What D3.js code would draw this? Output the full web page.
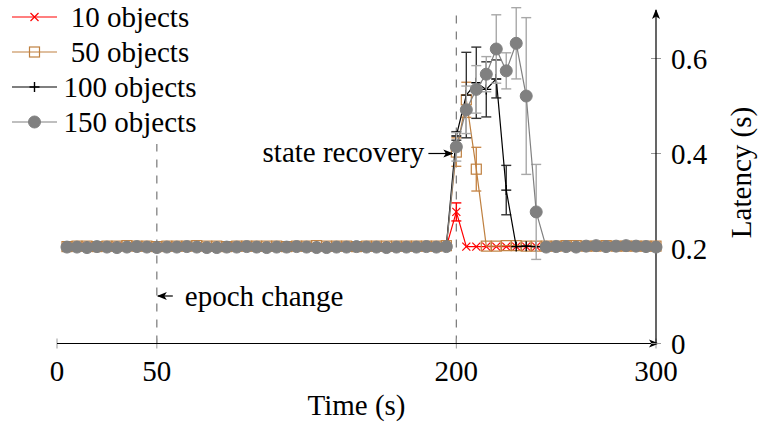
<!DOCTYPE html>
<html>
<head>
<meta charset="utf-8">
<script src="https://cdn.jsdelivr.net/npm/d3@7"></script>
<style>
  html, body { margin: 0; padding: 0; background: #fff; }
  svg { display: block; }
</style>
</head>
<body>
<svg class="chart"></svg>
<script>
// sample times (s)
const times = [5, 10, 15, 20, 25, 30, 35, 40, 45, 50, 55, 60, 65, 70, 75, 80, 85, 90, 95, 100,
  105, 110, 115, 120, 125, 130, 135, 140, 145, 150, 155, 160, 165, 170, 175, 180, 185, 190, 195, 200,
  205, 210, 215, 220, 225, 230, 235, 240, 245, 250, 255, 260, 265, 270, 275, 280, 285, 290, 295, 300];

// mean latency (s) per series
const lat10 = [0.203, 0.203, 0.204, 0.203, 0.203, 0.204, 0.203, 0.203, 0.203, 0.203, 0.203, 0.204, 0.203, 0.203, 0.203, 0.203, 0.203, 0.204, 0.203, 0.203,
  0.203, 0.203, 0.203, 0.204, 0.203, 0.203, 0.203, 0.203, 0.204, 0.203, 0.203, 0.203, 0.203, 0.203, 0.204, 0.203, 0.203, 0.203, 0.204, 0.277,
  0.204, 0.204, 0.204, 0.204, 0.204, 0.204, 0.204, 0.204, 0.204, 0.204, 0.204, 0.204, 0.204, 0.204, 0.204, 0.204, 0.204, 0.204, 0.204, 0.204];
const lat50 = [0.204, 0.205, 0.205, 0.204, 0.205, 0.205, 0.206, 0.205, 0.205, 0.204, 0.205, 0.205, 0.205, 0.206, 0.205, 0.205, 0.204, 0.205, 0.205, 0.205,
  0.205, 0.205, 0.204, 0.205, 0.205, 0.206, 0.205, 0.205, 0.205, 0.204, 0.205, 0.205, 0.205, 0.205, 0.205, 0.205, 0.205, 0.205, 0.206, 0.403,
  0.513, 0.367, 0.205, 0.205, 0.206, 0.206, 0.205, 0.205, 0.205, 0.205, 0.206, 0.206, 0.205, 0.205, 0.206, 0.205, 0.205, 0.205, 0.205, 0.205];
const lat100 = [0.203, 0.204, 0.204, 0.203, 0.204, 0.204, 0.204, 0.203, 0.204, 0.204, 0.203, 0.204, 0.204, 0.204, 0.203, 0.204, 0.204, 0.204, 0.204, 0.204,
  0.203, 0.204, 0.204, 0.204, 0.203, 0.204, 0.204, 0.204, 0.204, 0.204, 0.203, 0.204, 0.204, 0.204, 0.204, 0.204, 0.204, 0.204, 0.205, 0.437,
  0.523, 0.549, 0.535, 0.557, 0.323, 0.204, 0.205, 0.204, 0.204, 0.204, 0.204, 0.205, 0.204, 0.204, 0.204, 0.204, 0.204, 0.204, 0.204, 0.204];
const lat150 = [0.203, 0.203, 0.202, 0.204, 0.203, 0.202, 0.203, 0.204, 0.203, 0.202, 0.203, 0.203, 0.204, 0.203, 0.202, 0.202, 0.203, 0.203, 0.204, 0.203,
  0.202, 0.203, 0.203, 0.204, 0.203, 0.202, 0.202, 0.203, 0.203, 0.204, 0.203, 0.203, 0.202, 0.203, 0.203, 0.203, 0.204, 0.203, 0.204, 0.414,
  0.492, 0.535, 0.567, 0.620, 0.574, 0.632, 0.521, 0.277, 0.203, 0.204, 0.204, 0.203, 0.205, 0.206, 0.204, 0.205, 0.206, 0.205, 0.204, 0.203];

// error bar half-widths (s)
const err10 = [0.002, 0.002, 0.002, 0.002, 0.002, 0.002, 0.002, 0.002, 0.002, 0.002, 0.002, 0.002, 0.002, 0.002, 0.002, 0.002, 0.002, 0.002, 0.002, 0.002,
  0.002, 0.002, 0.002, 0.002, 0.002, 0.002, 0.002, 0.002, 0.002, 0.002, 0.002, 0.002, 0.002, 0.002, 0.002, 0.002, 0.002, 0.002, 0.002, 0.019,
  0.002, 0.002, 0.002, 0.002, 0.002, 0.002, 0.002, 0.002, 0.002, 0.002, 0.002, 0.002, 0.002, 0.002, 0.002, 0.002, 0.002, 0.002, 0.002, 0.002];
const err50 = [0.003, 0.003, 0.003, 0.003, 0.003, 0.003, 0.003, 0.003, 0.003, 0.003, 0.003, 0.003, 0.003, 0.003, 0.003, 0.003, 0.003, 0.003, 0.003, 0.003,
  0.003, 0.003, 0.003, 0.003, 0.003, 0.003, 0.003, 0.003, 0.003, 0.003, 0.003, 0.003, 0.003, 0.003, 0.003, 0.003, 0.003, 0.003, 0.003, 0.030,
  0.037, 0.046, 0.003, 0.003, 0.003, 0.003, 0.003, 0.003, 0.003, 0.003, 0.003, 0.003, 0.003, 0.003, 0.003, 0.003, 0.003, 0.003, 0.003, 0.003];
const err100 = [0.003, 0.003, 0.003, 0.003, 0.003, 0.003, 0.003, 0.003, 0.003, 0.003, 0.003, 0.003, 0.003, 0.003, 0.003, 0.003, 0.003, 0.003, 0.003, 0.003,
  0.003, 0.003, 0.003, 0.003, 0.003, 0.003, 0.003, 0.003, 0.003, 0.003, 0.003, 0.003, 0.003, 0.003, 0.003, 0.003, 0.003, 0.003, 0.003, 0.009,
  0.090, 0.075, 0.058, 0.040, 0.052, 0.003, 0.003, 0.003, 0.003, 0.003, 0.003, 0.003, 0.003, 0.003, 0.003, 0.003, 0.003, 0.003, 0.003, 0.003];
const err150 = [0.003, 0.003, 0.003, 0.003, 0.003, 0.003, 0.003, 0.003, 0.003, 0.003, 0.003, 0.003, 0.003, 0.003, 0.003, 0.003, 0.003, 0.003, 0.003, 0.003,
  0.003, 0.003, 0.003, 0.003, 0.003, 0.003, 0.003, 0.003, 0.003, 0.003, 0.003, 0.003, 0.003, 0.003, 0.003, 0.003, 0.003, 0.003, 0.003, 0.030,
  0.050, 0.050, 0.037, 0.072, 0.038, 0.075, 0.165, 0.100, 0.003, 0.003, 0.003, 0.003, 0.003, 0.003, 0.003, 0.003, 0.003, 0.003, 0.003, 0.003];

const seriesNames = ['10 objects', '50 objects', '100 objects', '150 objects'];
const xTicks = [0, 50, 200, 300];
const yTicks = [0, 0.2, 0.4, 0.6];

const series = [
  { name: seriesNames[0], values: lat10, errs: err10, color: '#ff0000', barColor: '#ff0000', mark: 'x' },
  { name: seriesNames[1], values: lat50, errs: err50, color: '#bf8040', barColor: '#c98a4e', mark: 'square' },
  { name: seriesNames[2], values: lat100, errs: err100, color: '#000000', barColor: '#333333', mark: 'plus' },
  { name: seriesNames[3], values: lat150, errs: err150, color: '#808080', barColor: '#a8a8a8', mark: 'circle' }
];

const FONT = '"Liberation Serif"';
const FS = '29px';
const width = 758;
const height = 423;
const x = d3.scaleLinear().domain([0, 300]).range([57, 656]);
const y = d3.scaleLinear().domain([0, 0.7]).range([343.5, 11]);

const svg = d3.select('.chart').attr('width', width).attr('height', height);

function label(sel) {
  return sel.style('font-family', FONT).style('font-size', FS).attr('fill', '#000');
}

const defs = svg.append('defs');
defs.append('marker')
  .attr('id', 'arrow')
  .attr('viewBox', '0 -5 10 10')
  .attr('refX', 9).attr('refY', 0)
  .attr('markerWidth', 10).attr('markerHeight', 10)
  .attr('markerUnits', 'userSpaceOnUse')
  .attr('orient', 'auto')
  .append('path')
  .attr('d', 'M0,-4L10,0L0,4L2.5,0Z')
  .attr('fill', '#000');

function drawMark(g, type, color, size) {
  if (type === 'x') {
    g.append('path')
      .attr('d', `M${-size},${-size}L${size},${size}M${-size},${size}L${size},${-size}`)
      .attr('stroke', color).attr('stroke-width', 1.2).attr('fill', 'none');
  } else if (type === 'square') {
    g.append('rect')
      .attr('x', -size).attr('y', -size).attr('width', 2 * size).attr('height', 2 * size)
      .attr('stroke', color).attr('stroke-width', 1.2).attr('fill', 'none');
  } else if (type === 'plus') {
    g.append('path')
      .attr('d', `M${-size},0L${size},0M0,${-size}L0,${size}`)
      .attr('stroke', color).attr('stroke-width', 1.4).attr('fill', 'none');
  } else {
    g.append('circle').attr('r', size).attr('fill', color).attr('stroke', color);
  }
}
const markSize = { x: 4, square: 5, plus: 5, circle: 6 };

// dashed event lines
svg.append('line')
  .attr('x1', x(50)).attr('x2', x(50)).attr('y1', y(0)).attr('y2', y(0.42))
  .attr('stroke', '#777').attr('stroke-width', 1.2).attr('stroke-dasharray', '8,8');
svg.append('line')
  .attr('x1', x(200)).attr('x2', x(200)).attr('y1', y(0)).attr('y2', y(0.7))
  .attr('stroke', '#777').attr('stroke-width', 1.2).attr('stroke-dasharray', '8,8');

// axes
const xAxis = svg.append('g').attr('transform', `translate(0,${y(0)})`);
xAxis.selectAll('line.tick').data(xTicks).enter().append('line')
  .attr('x1', d => x(d)).attr('x2', d => x(d)).attr('y1', -5).attr('y2', 5)
  .attr('stroke', '#999').attr('stroke-width', 1);
xAxis.append('line')
  .attr('x1', x(0)).attr('x2', x(300) + 2).attr('y1', 0).attr('y2', 0)
  .attr('stroke', '#000').attr('stroke-width', 1.2).attr('marker-end', 'url(#arrow)');
xAxis.selectAll('text').data(xTicks).enter().append('text')
  .attr('x', d => x(d)).attr('y', 27)
  .attr('text-anchor', 'middle').attr('dy', '0.35em')
  .call(label)
  .text(d => d);

const yAxis = svg.append('g').attr('transform', `translate(${x(300)},0)`);
yAxis.selectAll('line.tick').data(yTicks).enter().append('line')
  .attr('x1', -5).attr('x2', 5).attr('y1', d => y(d)).attr('y2', d => y(d))
  .attr('stroke', '#999').attr('stroke-width', 1);
yAxis.append('line')
  .attr('x1', 0).attr('x2', 0).attr('y1', y(0)).attr('y2', y(0.7) - 1)
  .attr('stroke', '#000').attr('stroke-width', 1.2).attr('marker-end', 'url(#arrow)');
yAxis.selectAll('text').data(yTicks).enter().append('text')
  .attr('x', 15).attr('y', d => y(d))
  .attr('dy', '0.35em')
  .call(label)
  .text(d => d === 0 ? '0' : d.toFixed(1));

svg.append('text')
  .attr('x', (x(0) + x(300)) / 2).attr('y', 405)
  .attr('text-anchor', 'middle').attr('dy', '0.35em')
  .call(label)
  .text('Time (s)');
svg.append('text')
  .attr('transform', `translate(741,${y(0.36)}) rotate(-90)`)
  .attr('text-anchor', 'middle').attr('dy', '0.35em')
  .call(label)
  .text('Latency (s)');

// series
const line = d3.line().x(d => x(d.t)).y(d => y(d.v));
series.forEach(s => {
  const pts = times.map((t, i) => ({ t, v: s.values[i], e: s.errs[i] }));
  const g = svg.append('g');
  const bars = g.append('g').attr('stroke', s.barColor).attr('stroke-width', 1.4).attr('fill', 'none');
  pts.filter(p => p.e > 0.005).forEach(p => {
    bars.append('line').attr('x1', x(p.t)).attr('x2', x(p.t)).attr('y1', y(p.v - p.e)).attr('y2', y(p.v + p.e));
    bars.append('line').attr('x1', x(p.t) - 5).attr('x2', x(p.t) + 5).attr('y1', y(p.v - p.e)).attr('y2', y(p.v - p.e));
    bars.append('line').attr('x1', x(p.t) - 5).attr('x2', x(p.t) + 5).attr('y1', y(p.v + p.e)).attr('y2', y(p.v + p.e));
  });
  g.append('path').datum(pts).attr('d', line)
    .attr('fill', 'none').attr('stroke', s.color).attr('stroke-width', 1.2);
  g.selectAll('g.mark').data(pts).enter().append('g')
    .attr('transform', d => `translate(${x(d.t)},${y(d.v)})`)
    .each(function () { drawMark(d3.select(this), s.mark, s.color, markSize[s.mark]); });
});

// annotations
svg.append('line')
  .attr('x1', x(58)).attr('x2', x(50.5)).attr('y1', y(0.1)).attr('y2', y(0.1))
  .attr('stroke', '#000').attr('stroke-width', 1.2).attr('marker-end', 'url(#arrow)');
svg.append('text')
  .attr('x', x(64)).attr('y', y(0.1)).attr('dy', '0.35em')
  .call(label)
  .text('epoch change');
svg.append('line')
  .attr('x1', x(186)).attr('x2', x(198)).attr('y1', y(0.4)).attr('y2', y(0.4))
  .attr('stroke', '#000').attr('stroke-width', 1.2).attr('marker-end', 'url(#arrow)');
svg.append('text')
  .attr('x', x(184)).attr('y', y(0.4) - 2).attr('dy', '0.35em')
  .attr('text-anchor', 'end')
  .call(label)
  .text('state recovery');

// legend
const legend = svg.append('g');
series.forEach((s, i) => {
  const row = legend.append('g').attr('transform', `translate(0,${17 + i * 35})`);
  row.append('line').attr('x1', 12).attr('x2', 57).attr('y1', 0).attr('y2', 0)
    .attr('stroke', s.color).attr('stroke-width', 1.2);
  const m = row.append('g').attr('transform', 'translate(34.5,0)');
  drawMark(m, s.mark, s.color, markSize[s.mark]);
  row.append('text').attr('x', 130).attr('y', 0).attr('dy', '0.35em')
    .attr('text-anchor', 'middle')
    .call(label)
    .text(s.name);
});
</script>
</body>
</html>
